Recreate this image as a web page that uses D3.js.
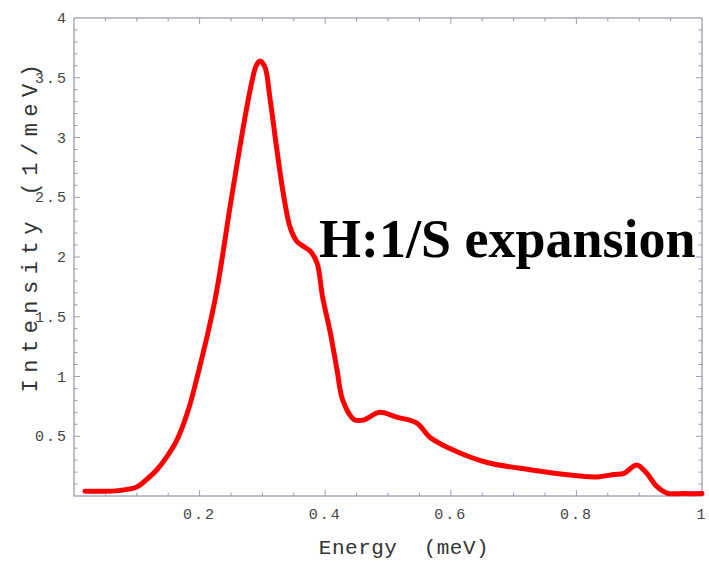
<!DOCTYPE html>
<html>
<head>
<meta charset="utf-8">
<script src="https://cdn.jsdelivr.net/npm/d3@7"></script>
<style>
  html, body { margin: 0; padding: 0; background: #fff; }
  svg { display: block; }
</style>
</head>
<body>
<svg id="chart" width="709" height="565"></svg>
<script>
// Spectral intensity vs. energy (1/S expansion)
const energy = [0.0175, 0.041, 0.07, 0.10, 0.116, 0.132, 0.148, 0.164, 0.182, 0.194, 0.2245,
  0.25, 0.272, 0.283, 0.29, 0.296, 0.304, 0.312, 0.323, 0.333, 0.344, 0.355, 0.365, 0.376, 0.387,
  0.396, 0.408, 0.419, 0.428, 0.446, 0.46, 0.487, 0.514, 0.546, 0.567, 0.61, 0.658, 0.726,
  0.801, 0.833, 0.86, 0.876, 0.896, 0.912, 0.928, 0.944, 0.97, 1.0];
const intensity = [0.04, 0.04, 0.045, 0.075, 0.14, 0.22, 0.33, 0.47, 0.72, 0.95, 1.64,
  2.47, 3.16, 3.46, 3.60, 3.64, 3.59, 3.33, 2.90, 2.54, 2.25, 2.13, 2.09, 2.05, 1.95,
  1.66, 1.37, 1.05, 0.80, 0.64, 0.635, 0.70, 0.66, 0.61, 0.49, 0.37, 0.28, 0.22,
  0.17, 0.16, 0.18, 0.19, 0.26, 0.19, 0.08, 0.025, 0.02, 0.02];

const xTickValues = [0.2, 0.4, 0.6, 0.8, 1];
const xTickLabels = ["0.2", "0.4", "0.6", "0.8", "1"];
const yTickValues = [0.5, 1, 1.5, 2, 2.5, 3, 3.5, 4];
const yTickLabels = ["0.5", "1", "1.5", "2", "2.5", "3", "3.5", "4"];

const xTitle = "Energy  (meV)";
const yTitle = "Intensity (1/meV)";
const caption = "H:1/S expansion";

const svg = d3.select("#chart");
const plotLeft = 74, plotRight = 702, plotTop = 18, plotBottom = 496;

const x = d3.scaleLinear().domain([0, 1]).range([plotLeft, plotRight]);
const y = d3.scaleLinear().domain([0, 4]).range([plotBottom, plotTop]);

const frameColor = "#9c9cb4";
const labelFont = "'Liberation Mono', 'Courier New', monospace";

// frame
svg.append("rect")
  .attr("x", plotLeft).attr("y", plotTop)
  .attr("width", plotRight - plotLeft).attr("height", plotBottom - plotTop)
  .attr("fill", "none").attr("stroke", frameColor).attr("stroke-width", 1.3);

// inward ticks on all four sides
const xMinor = d3.range(1, 20).map(i => i * 0.05);
const yMinor = d3.range(1, 40).map(i => i * 0.1);
const isMajor = (v, step) => Math.abs(v / step - Math.round(v / step)) < 1e-6;

const tickG = svg.append("g").attr("stroke", frameColor).attr("stroke-width", 1);
xMinor.forEach(v => {
  const len = isMajor(v, 0.2) ? 6 : 3.5;
  tickG.append("line").attr("x1", x(v)).attr("x2", x(v)).attr("y1", plotBottom).attr("y2", plotBottom - len);
  tickG.append("line").attr("x1", x(v)).attr("x2", x(v)).attr("y1", plotTop).attr("y2", plotTop + len);
});
yMinor.forEach(v => {
  const len = isMajor(v, 0.5) ? 6 : 3.5;
  tickG.append("line").attr("x1", plotLeft).attr("x2", plotLeft + len).attr("y1", y(v)).attr("y2", y(v));
  tickG.append("line").attr("x1", plotRight).attr("x2", plotRight - len).attr("y1", y(v)).attr("y2", y(v));
});

// tick labels
svg.append("g").selectAll("text").data(xTickValues).join("text")
  .attr("x", d => x(d)).attr("y", 519)
  .attr("text-anchor", "middle")
  .attr("font-family", labelFont).attr("font-size", 15)
  .attr("letter-spacing", 2)
  .attr("fill", "#444")
  .text((d, i) => xTickLabels[i]);

svg.append("g").selectAll("text").data(yTickValues).join("text")
  .attr("x", 68).attr("y", d => y(d) + 5)
  .attr("text-anchor", "end")
  .attr("font-family", labelFont).attr("font-size", 15)
  .attr("letter-spacing", 2)
  .attr("fill", "#444")
  .text((d, i) => yTickLabels[i]);

// axis titles
svg.append("text")
  .attr("x", 404).attr("y", 554)
  .attr("text-anchor", "middle")
  .attr("font-family", labelFont).attr("font-size", 21)
  .attr("letter-spacing", 0.5)
  .attr("fill", "#333")
  .style("white-space", "pre")
  .text(xTitle);

svg.append("text")
  .attr("transform", "translate(37,225) rotate(-90)")
  .attr("text-anchor", "middle")
  .attr("font-family", labelFont).attr("font-size", 22)
  .attr("letter-spacing", 6.5)
  .attr("fill", "#333")
  .text(yTitle);

// intensity curve
const pts = energy.map((e, i) => [e, intensity[i]]);
const line = d3.line()
  .x(d => x(d[0]))
  .y(d => y(d[1]))
  .curve(d3.curveCatmullRom.alpha(0.5));

svg.append("path")
  .datum(pts)
  .attr("d", line)
  .attr("fill", "none")
  .attr("stroke", "#ff0000")
  .attr("stroke-width", 5)
  .attr("stroke-linejoin", "round")
  .attr("stroke-linecap", "round");

// caption
svg.append("text")
  .attr("x", 319).attr("y", 257)
  .attr("font-family", "'Liberation Serif', 'Times New Roman', serif")
  .attr("font-weight", "bold")
  .attr("font-size", 54)
  .attr("fill", "#000")
  .text(caption);
</script>
</body>
</html>
